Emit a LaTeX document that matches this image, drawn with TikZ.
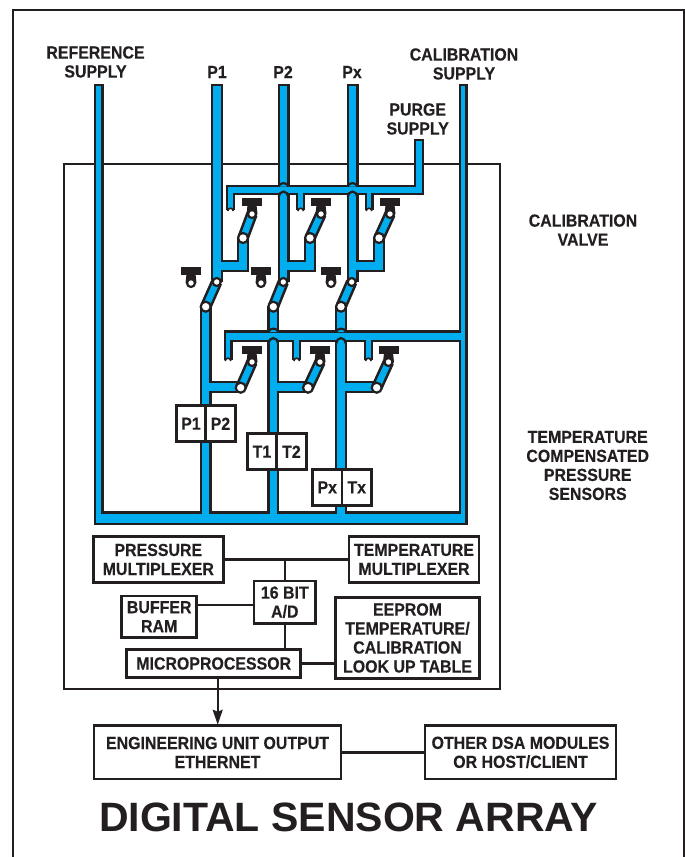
\documentclass[tikz,border=0pt]{standalone}
\usepackage{fontspec}
\setmainfont{Liberation Sans}
\newfontfamily\condFont[FakeStretch=0.91, FakeBold=0.25]{Liberation Sans}
\usepackage{tikz}
\usetikzlibrary{arrows.meta, calc}
\definecolor{pipeBlue}{RGB}{0, 174, 239}
\definecolor{inkBlack}{RGB}{35, 31, 32}
\newcommand{\myText}{\condFont\bfseries\fontsize{17.5}{19}\selectfont}
\tikzstyle{arrow} = [line width=1.8pt, -{Stealth[length=15pt, width=10pt, inset=2pt]}, draw=inkBlack]
\tikzstyle{line} = [line width=2.2pt, draw=inkBlack]
\tikzstyle{basic} = [rectangle, draw=inkBlack, line width=2.6pt, fill=white, text=inkBlack, align=center, outer sep=0pt, inner sep=0pt, font=\myText]
\tikzstyle{tag} = [text=inkBlack, align=center, font=\myText]
\tikzstyle{sensor} = [basic, minimum width=29.5pt, minimum height=36pt]
\tikzstyle{refOut} = [line width=10pt, draw=inkBlack]
\tikzstyle{refIn} = [line width=5.4pt, draw=pipeBlue]
\tikzstyle{calOut} = [line width=9pt, draw=inkBlack]
\tikzstyle{calIn} = [line width=4.8pt, draw=pipeBlue]
\tikzstyle{mainOut} = [line width=12pt, draw=inkBlack, miter limit=10]
\tikzstyle{mainIn} = [line width=7.4pt, draw=pipeBlue, miter limit=10]
\tikzstyle{branchOut} = [line width=10.6pt, draw=inkBlack]
\tikzstyle{branchIn} = [line width=6.2pt, draw=pipeBlue]
\tikzstyle{stubOut} = [line width=9pt, draw=inkBlack]
\tikzstyle{stubIn} = [line width=4.8pt, draw=pipeBlue]
\tikzstyle{hopEdge} = [line width=2.2pt, draw=inkBlack, fill=pipeBlue]
% one manifold hop over a riser: x, top edge, bottom edge
\newcommand{\myHop}[3]{
  \draw [hopEdge] (#1-4.8,#2+1.5) arc (180:0:4.8pt and 3.4pt);
  \draw [hopEdge] (#1-4.8,#3+2) arc (180:0:4.8pt and 5.4pt);
}
% stub end with its small notch: x, y
\newcommand{\myStubEnd}[2]{
  \draw [line width=1.6pt, draw=inkBlack, fill=white] (#1-2.8,#2) arc (180:0:2.8pt);
}
% black stop with its contact: x, y of the contact
\newcommand{\myStop}[2]{
  \fill [inkBlack] (#1-10,#2-16) rectangle (#1+10,#2-8);
  \fill [inkBlack] (#1-4.5,#2-9) -- (#1+4.5,#2-9) -- (#1+5.5,#2) -- (#1-5.5,#2) -- cycle;
  \draw [line width=2.2pt, draw=inkBlack, fill=white] (#1,#2) circle (4pt);
}
% moving arm: x, y of the lower pivot, x, y of the upper pivot
\newcommand{\myArm}[4]{
  \draw [line width=11.6pt, draw=inkBlack] (#1,#2) -- (#3,#4);
  \draw [line width=6.4pt, draw=pipeBlue] (#1,#2) -- (#3,#4);
  \draw [line width=2.2pt, draw=inkBlack, fill=white] (#1,#2) circle (5pt);
  \draw [line width=2.2pt, draw=inkBlack, fill=white] (#3,#4) circle (4pt);
}

\begin{document}
\begin{tikzpicture}[x=1pt, y=-1pt]
\useasboundingbox (0,0) rectangle (685,857);

\draw [line width=2.8pt, draw=inkBlack] (13,857) -- (13,10) -- (684,10) -- (684,857);
\node (module) [rectangle, draw=inkBlack, line width=2.4pt, outer sep=0pt, minimum width=436pt, minimum height=525pt, anchor=north west] at (64,164) {};

% supplies and risers, outlines first
\draw [refOut] (98.5,84) -- (98.5,518);
\draw [calOut] (463,84) -- (463,518);
\draw [mainOut] (217,84) -- (217,282);
\draw [mainOut] (283.5,84) -- (283.5,282);
\draw [mainOut] (352.5,84) -- (352.5,282);
\draw [mainOut] (243,238) -- (243,266) -- (217,266);
\draw [mainOut] (310,238) -- (310,266) -- (283.5,266);
\draw [mainOut] (379,238) -- (379,266) -- (352.5,266);
\draw [mainOut] (205.7,306) -- (205.7,518);
\draw [mainOut] (273.3,306) -- (273.3,518);
\draw [mainOut] (341,306) -- (341,518);
\draw [mainOut] (240.7,387) -- (205.7,387);
\draw [mainOut] (308,387) -- (273.3,387);
\draw [mainOut] (376.7,387) -- (341,387);
\draw [line width=13.8pt, draw=inkBlack] (93.5,518.3) -- (467.5,518.3);

\draw [refIn] (98.5,86.2) -- (98.5,518);
\draw [calIn] (463,86.2) -- (463,518);
\draw [mainIn] (217,86.2) -- (217,282);
\draw [mainIn] (283.5,86.2) -- (283.5,282);
\draw [mainIn] (352.5,86.2) -- (352.5,282);
\draw [mainIn] (243,238) -- (243,266) -- (217,266);
\draw [mainIn] (310,238) -- (310,266) -- (283.5,266);
\draw [mainIn] (379,238) -- (379,266) -- (352.5,266);
\draw [mainIn] (205.7,306) -- (205.7,518);
\draw [mainIn] (273.3,306) -- (273.3,518);
\draw [mainIn] (341,306) -- (341,518);
\draw [mainIn] (240.7,387) -- (205.7,387);
\draw [mainIn] (308,387) -- (273.3,387);
\draw [mainIn] (376.7,387) -- (341,387);
\draw [line width=9.4pt, draw=pipeBlue] (95.8,518.3) -- (465.2,518.3);

% purge manifold
\draw [branchOut] (419,139) -- (419,190) -- (225.5,190);
\draw [stubOut] (230.5,190) -- (230.5,210);
\draw [stubOut] (300.7,190) -- (300.7,210);
\draw [stubOut] (369,190) -- (369,210);
\draw [branchIn] (419,141.2) -- (419,190) -- (227.7,190);
\draw [stubIn] (230.5,186.9) -- (230.5,210);
\draw [stubIn] (300.7,190) -- (300.7,210);
\draw [stubIn] (369,190) -- (369,210);
\myStubEnd{230.5}{211}
\myStubEnd{300.7}{211}
\myStubEnd{369}{211}
\myHop{283.5}{185}{195}
\myHop{352.5}{185}{195}

% calibration manifold
\draw [line width=11.4pt, draw=inkBlack] (460.6,336) -- (224,336);
\draw [stubOut] (228,336) -- (228,360);
\draw [stubOut] (296.7,336) -- (296.7,360);
\draw [stubOut] (368.3,336) -- (368.3,360);
\draw [line width=7pt, draw=pipeBlue] (463,336) -- (226,336);
\draw [stubIn] (228,332.5) -- (228,360);
\draw [stubIn] (296.7,336) -- (296.7,360);
\draw [stubIn] (368.3,336) -- (368.3,360);
\myStubEnd{228}{361}
\myStubEnd{296.7}{361}
\myStubEnd{368.3}{361}
\myHop{273.3}{330.5}{341.5}
\myHop{341}{330.5}{341.5}

% valves
\myStop{252}{214}
\myStop{321}{214}
\myStop{390}{214}
\myArm{243}{238}{252}{214}
\myArm{310}{238}{321}{214}
\myArm{379}{238}{390}{214}
\myStop{191}{283}
\myStop{261}{283}
\myStop{331}{283}
\myArm{205.7}{306.7}{216.7}{282}
\myArm{273.3}{306.7}{283.3}{282}
\myArm{341}{306.7}{351.7}{282}
\myStop{252}{362}
\myStop{320}{362}
\myStop{388.5}{362}
\myArm{240.7}{387.7}{252}{362}
\myArm{308}{387.7}{320}{362}
\myArm{376.7}{387.7}{388.5}{362}

% sensors
\node (sensP1) [sensor, anchor=north east] at (205.7,405.7) {P1};
\node (sensP2) [sensor, anchor=west] at(sensP1.east) {P2};
\node (sensT1) [sensor, anchor=north east] at (276.7,433.7) {T1};
\node (sensT2) [sensor, anchor=west] at(sensT1.east) {T2};
\node (sensPx) [sensor, anchor=north east] at (342,469.3) {Px};
\node (sensTx) [sensor, anchor=west] at(sensPx.east) {Tx};

% electronics
\node (presMux) [basic, minimum width=130pt, minimum height=45.6pt, anchor=north west] at (93.3,536.7) {PRESSURE\\MULTIPLEXER};
\node (tempMux) [basic, minimum width=130pt, minimum height=45.6pt, anchor=west, xshift=125.7pt] at(presMux.east) {TEMPERATURE\\MULTIPLEXER};
\node (adc) [basic, minimum width=61.6pt, minimum height=42.4pt, anchor=north west] at (254,581) {16 BIT\\A/D};
\node (bufRam) [basic, minimum width=75pt, minimum height=41.4pt, anchor=north west] at (121.7,596) {BUFFER\\RAM};
\node (micro) [basic, minimum width=174pt, minimum height=28.4pt, anchor=north west] at (126.7,649.3) {MICROPROCESSOR};
\node (eeprom) [basic, minimum width=143.6pt, minimum height=81.4pt, anchor=north west] at (335.7,597.3) {EEPROM\\TEMPERATURE/\\CALIBRATION\\LOOK UP TABLE};
\node (engOut) [basic, minimum width=247pt, minimum height=53.4pt, anchor=north west] at (94,725.7) {ENGINEERING UNIT OUTPUT\\ETHERNET};
\node (otherDsa) [basic, minimum width=191pt, minimum height=53.4pt, anchor=west, xshift=84pt] at(engOut.east) {OTHER DSA MODULES\\OR HOST/CLIENT};

\coordinate (bufTap) at ($(bufRam.east) + (0,-11.7)$);
\draw [line] (presMux.east) -- (tempMux.west);
\draw [line] (adc.north) -- (adc.north |- presMux.east);
\draw [line] (bufTap) -- (bufTap -| adc.west);
\draw [line] (adc.south) -- (adc.south |- micro.north);
\draw [line] (micro.east) -- (micro.east -| eeprom.west);
\draw [arrow] ($(micro.south) + (4,0)$) -- ($(engOut.north) + (0.2,-1)$);
\draw [line] (engOut.east) -- (otherDsa.west);

% labels
\node (refLabel) [tag] at (95.5,62) {REFERENCE\\SUPPLY};
\node (p1Label) [tag] at (217,72) {P1};
\node (p2Label) [tag] at (283,72) {P2};
\node (pxLabel) [tag] at (352,72) {Px};
\node (calLabel) [tag] at (464,64) {CALIBRATION\\SUPPLY};
\node (purgeLabel) [tag] at (417.7,119) {PURGE\\SUPPLY};
\node (valveLabel) [tag] at (583,230) {CALIBRATION\\VALVE};
\node (sensorLabel) [tag] at (587.7,465.5) {TEMPERATURE\\COMPENSATED\\PRESSURE\\SENSORS};
\node (title) [text=inkBlack, font=\bfseries\fontsize{41}{44}\selectfont] at (348.5,817.5) {DIGITAL SENSOR ARRAY};

\end{tikzpicture}
\end{document}
